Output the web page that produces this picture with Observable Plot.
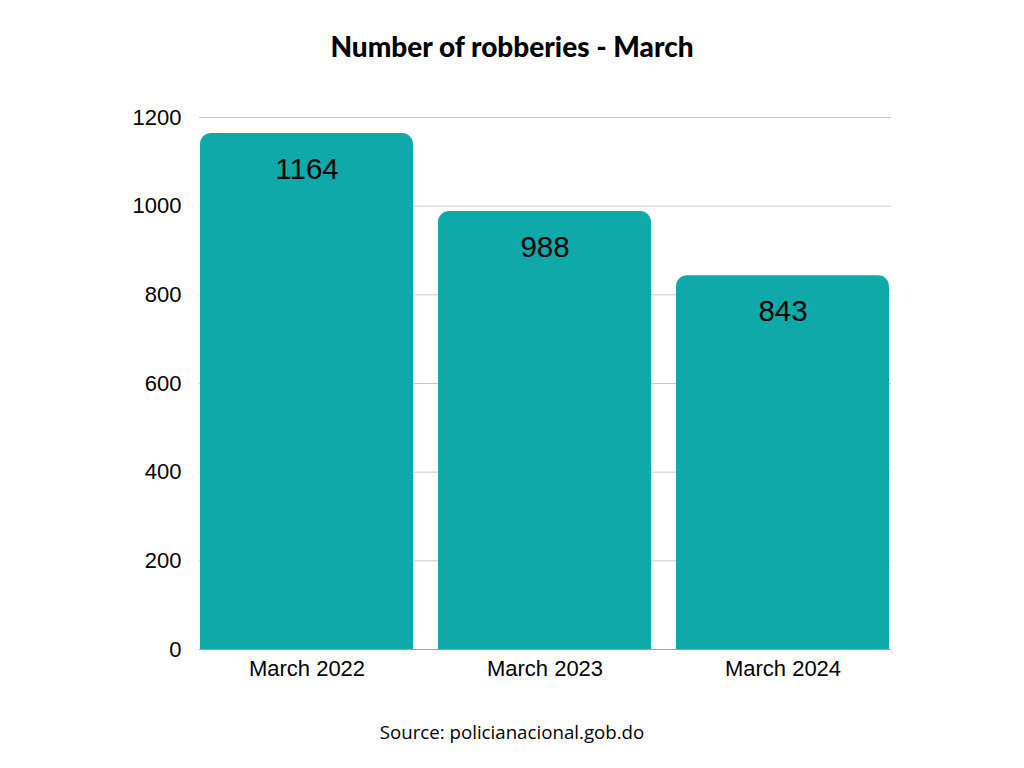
<!DOCTYPE html>
<html>
<head>
<meta charset="utf-8">
<script src="https://cdn.jsdelivr.net/npm/d3@7"></script>
<script src="https://cdn.jsdelivr.net/npm/@observablehq/plot@0.6"></script>
<style>
  body { margin: 0; background: #fff; }
  #wrap { position: relative; width: 1024px; height: 768px; }
  .chart-title {
    position: absolute; top: 29px; left: 0; width: 1024px; text-align: center;
    font-family: Lato, sans-serif; font-weight: 900; font-size: 28px; color: #000;
  }
  .chart-source {
    position: absolute; top: 719px; left: 0; width: 1024px; text-align: center;
    font-family: "Open Sans", sans-serif; font-size: 18.7px; color: #000;
  }
</style>
</head>
<body>
<div id="wrap">
  <div id="chart"></div>
  <div class="chart-title">Number of robberies - March</div>
  <div class="chart-source">Source: policianacional.gob.do</div>
</div>
<script>
const meses = ["March 2022", "March 2023", "March 2024"];
const robos = [1164, 988, 843];
const yTicks = [0, 200, 400, 600, 800, 1000, 1200];

const data = meses.map((mes, i) => ({mes, robos: robos[i]}));
const teal = "#10a9a9";

let chart = Plot.plot({
  width: 1024,
  height: 768,
  marginLeft: 199,
  marginRight: 133,
  marginTop: 117,
  marginBottom: 119,
  style: {fontFamily: "'Liberation Sans', Arial, sans-serif", fontSize: "20px", color: "#000"},
  x: {
    domain: meses,
    label: null,
    paddingInner: 25 / 239,
    paddingOuter: 0,
  },
  y: {
    domain: [0, 1200],
    label: null,
  },
  marks: [
    Plot.gridY(yTicks, {stroke: "#c8c8c8", strokeOpacity: 1}),
    Plot.barY(data, {x: "mes", y: "robos", fill: teal, rx: 11, inset: 0}),
    // tapa las esquinas redondeadas de abajo
    Plot.barY(data, {x: "mes", y: d => d.robos / 2, fill: teal, inset: 0}),
    Plot.ruleY([0], {stroke: "#a0a0a0"}),
    Plot.axisY(yTicks, {tickSize: 0, tickPadding: 18, tickFormat: d => String(d), fontSize: 22}),
    Plot.axisX({tickSize: 0, tickPadding: 11, fontSize: 22, label: null}),
    Plot.text(data, {
      x: "mes",
      y: "robos",
      text: d => String(d.robos),
      dy: 36,
      fontSize: 29.5,
      fill: "#000"
    })
  ]
});

d3.select("#chart").append(() => chart);
</script>
</body>
</html>
